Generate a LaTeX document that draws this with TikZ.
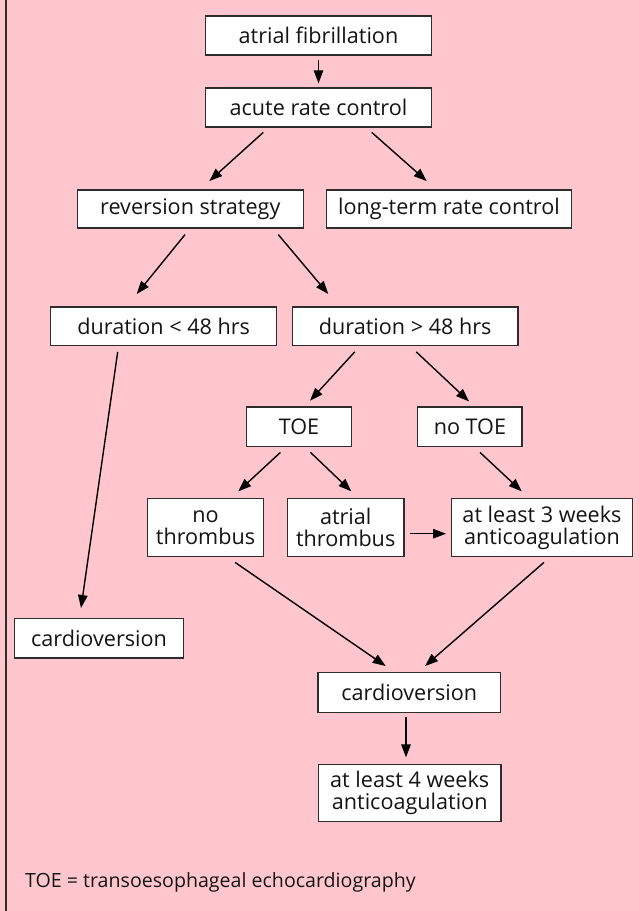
\documentclass[tikz,border=0pt]{standalone}
\usepackage{fontspec}
\setmainfont{Open Sans}
\usetikzlibrary{arrows.meta,calc}
\definecolor{bgpink}{RGB}{255,199,205}
\definecolor{boxline}{RGB}{45,45,45}
\definecolor{txt}{RGB}{20,20,20}
\begin{document}
\begin{tikzpicture}[x=1pt,y=-1pt,
  box/.style={draw=boxline,line width=1.3pt,fill=white,inner sep=0pt,align=center,
    font=\fontsize{21.6}{22}\selectfont,text=txt},
  arr/.style={line width=1.4pt,black,-{Triangle[length=13pt,width=9.5pt]}}]
\fill[bgpink] (0,0) rectangle (639,911);
\useasboundingbox (0,0) rectangle (639,911);
\draw[line width=1.3pt,boxline] (6,0) -- (6,911);

\node[box,minimum width=225.6pt,minimum height=39pt] (af) at (318.5,35.5) {atrial fibrillation};
\node[box,minimum width=225.6pt,minimum height=39pt] (arc) at (318.5,107.5) {acute rate control};
\node[box,minimum width=226pt,minimum height=38pt] (rev) at (190.3,209) {reversion strategy};
\node[box,minimum width=244.6pt,minimum height=38pt] (ltr) at (449,209) {long-term rate control};
\node[box,minimum width=226pt,minimum height=38.7pt] (dl) at (163.7,326.3) {duration < 48 hrs};
\node[box,minimum width=225.7pt,minimum height=38.7pt] (dg) at (405.2,326.3) {duration > 48 hrs};
\node[box,minimum width=104.6pt,minimum height=39.3pt] (toe) at (299,426.7) {TOE};
\node[box,minimum width=104.3pt,minimum height=39.3pt] (notoe) at (469.9,426.7) {no TOE};
\node[box,minimum width=116.4pt,minimum height=58pt] (nothr) at (205.5,527.7) {no\\thrombus};
\node[box,minimum width=116.7pt,minimum height=58pt] (athr) at (345.7,527.7) {atrial\\thrombus};
\node[box,minimum width=181.4pt,minimum height=58pt] (w3) at (542,527.7) {at least 3 weeks\\anticoagulation};
\node[box,minimum width=168.6pt,minimum height=39.3pt] (cv1) at (99,638.3) {cardioversion};
\node[box,minimum width=182.8pt,minimum height=39.6pt] (cv2) at (409.3,692.5) {cardioversion};
\node[box,minimum width=182.7pt,minimum height=57.4pt] (w4) at (409.7,793) {at least 4 weeks\\anticoagulation};
\node[anchor=west,inner sep=0pt,font=\fontsize{19.6}{22}\selectfont,text=txt] (foot) at (25,882) {TOE = transoesophageal echocardiography};

\draw[arr] ($(af.south)+(0,4)$) -- ($(arc.north)+(0,-4)$);
\draw[arr] ($(arc.south)+(-55.2,4.7)$) -- ($(rev.north)+(19,-8.3)$);
\draw[arr] ($(arc.south)+(53.2,4.7)$) -- ($(ltr.north)+(-22.3,-8.3)$);
\draw[arr] ($(rev.south)+(-5.3,6)$) -- ($(dl.north)+(-27,-12.3)$);
\draw[arr] ($(rev.south)+(88,6)$) -- ($(dg.north)+(-76.9,-12.3)$);
\draw[arr] ($(dl.south)+(-46,5.6)$) -- ($(cv1.north)+(-18,-10)$);
\draw[arr] ($(dg.south)+(-50.5,5.6)$) -- ($(toe.north)+(11,-5.7)$);
\draw[arr] ($(dg.south)+(11.1,5.6)$) -- ($(notoe.north)+(-0.9,-5)$);
\draw[arr] ($(toe.south)+(-18.6,5.4)$) -- ($(nothr.north)+(32.8,-6.7)$);
\draw[arr] ($(toe.south)+(11.5,5.4)$) -- ($(athr.north)+(5.6,-6.7)$);
\draw[arr] ($(notoe.south)+(10.1,5.4)$) -- ($(w3.north)+(-20.3,-6.7)$);
\draw[arr] ($(athr.east)+(5.7,6)$) -- ($(w3.west)+(-4.6,6)$);
\draw[arr] ($(nothr.south)+(29.5,5)$) -- ($(cv2.north)+(-23.6,-6)$);
\draw[arr] ($(w3.south)+(2,5)$) -- ($(cv2.north)+(15.7,-6)$);
\draw[arr] ($(cv2.south)+(-3.3,4.4)$) -- ($(w4.north)+(-3.7,-6.3)$);
\end{tikzpicture}
\end{document}
